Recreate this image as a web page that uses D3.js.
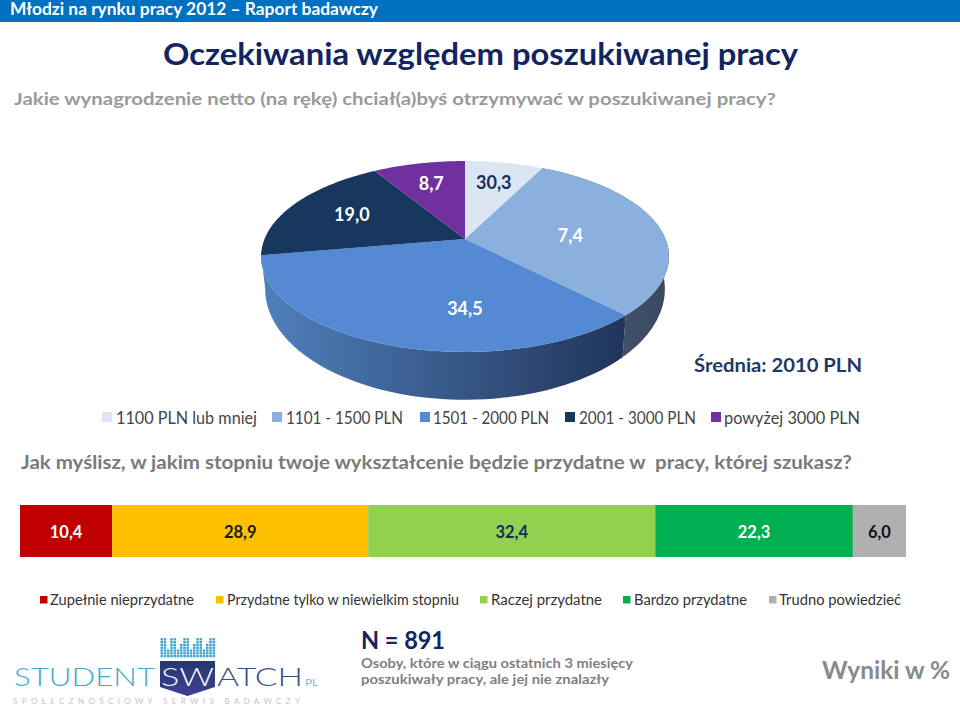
<!DOCTYPE html>
<html lang="pl"><head><meta charset="utf-8">
<script src="https://cdn.jsdelivr.net/npm/d3@7"></script>
<style>html,body{margin:0;padding:0;background:#fff}svg{display:block}text{font-family:Lato,"Open Sans",sans-serif}</style>
</head><body><svg id="c" width="960" height="707"></svg>
<script>
// ---------- data ----------
const pieCategories = ["1100 PLN lub mniej","1101 - 1500 PLN","1501 - 2000 PLN","2001 - 3000 PLN","powyżej 3000 PLN"];
const pieValues = [7.4, 30.3, 34.5, 19.0, 8.7];
const pieLabels = ["30,3","7,4","34,5","19,0","8,7"];
const barCategories = ["Zupełnie nieprzydatne","Przydatne tylko w niewielkim stopniu","Raczej przydatne","Bardzo przydatne","Trudno powiedzieć"];
const barValues = [10.4, 28.9, 32.4, 22.3, 6.0];
const barLabels = ["10,4","28,9","32,4","22,3","6,0"];
const equalizerLevels = [7,7,3,7,7,3,5,7,7,3,5,7,7,3,5,7,7];

// ---------- styles ----------
const pieColors = ["#dce6f2","#8cb0de","#5489d3","#17375e","#7030a0"];
const pieLabelColors = ["#12305e","#fff","#fff","#fff","#fff"];
const sideStops = [["#dce6f2","#dce6f2"],["#3f5068","#394960"],["#4f7fbb","#203559"],["#17375e","#17375e"],["#7030a0","#7030a0"]];
const barColors = ["#c00000","#ffc000","#92d050","#00b050","#b0b0b0"];
const barLabelColors = ["#fff","#1b1b1b","#10305a","#fff","#111"];

const svg = d3.select("#c");
const defs = svg.append("defs");
function txt(s,x,y,size,fill,weight,len,anchor){
  const t = svg.append("text").attr("x",x).attr("y",y).attr("font-size",size).attr("fill",fill)
    .attr("font-weight",weight||400).attr("text-anchor",anchor||"start").text(s);
  if(len) t.attr("textLength",len).attr("lengthAdjust","spacingAndGlyphs");
  return t;
}

// ---------- header ----------
svg.append("rect").attr("width",960).attr("height",22).attr("fill","#0070c0");
txt("Młodzi na rynku pracy 2012 – Raport badawczy",10,15,16.5,"#fff",700,368);
txt("Oczekiwania względem poszukiwanej pracy",163,65,30,"#12255e",700,635);
txt("Jakie wynagrodzenie netto (na rękę) chciał(a)byś otrzymywać w poszukiwanej pracy?",14,105,17.5,"#9a9a9a",700,762);

// ---------- 3D pie: perspective projection of a tilted disc ----------
const cx=465, cy=239, A=200.5, B=48.5, C=-0.183;
function project(angle,r){
  const u=r*Math.sin(angle), v=-r*Math.cos(angle), d=1+C*v;
  return [cx+A*u/d,(cy+B*v)/d];
}
const lowerK=0.98, lowerKy=1.16, lowerD=32.7, midY=257;
function lower(p){ return [cx+(p[0]-cx)*lowerK, midY+(p[1]-midY)*lowerKy+lowerD]; }
const arcs = d3.pie().sort(null).value(d=>d)(pieValues);
const line = d3.line();
function arcPts(a0,a1){ return d3.range(0,61).map(i=>a0+(a1-a0)*i/60); }

const pieG = svg.append("g");
arcs.forEach((a,i)=>{
  const g = defs.append("linearGradient").attr("id","side"+i).attr("gradientUnits","userSpaceOnUse")
    .attr("x1",i===2?265:622).attr("x2",i===2?625:669).attr("y1",0).attr("y2",0);
  g.append("stop").attr("offset",0).attr("stop-color",sideStops[i][0]);
  g.append("stop").attr("offset",1).attr("stop-color",sideStops[i][1]);
});
[1,2].forEach(i=>{
  const a=arcs[i], th=arcPts(a.startAngle,a.endAngle);
  const top=th.map(t=>project(t,1));
  const bot=top.map(lower).reverse();
  pieG.append("path").attr("d",line(top.concat(bot))+"Z").attr("fill",`url(#side${i})`);
});
arcs.forEach((a,i)=>{
  const pts=[project(0,0)].concat(arcPts(a.startAngle,a.endAngle).map(t=>project(t,1)));
  pieG.append("path").attr("d",line(pts)+"Z").attr("fill",pieColors[i]);
});
const labelR=[0.7,0.53,0.667,0.65,0.7], labelShift=[0,5,-18,0,0];
arcs.forEach((a,i)=>{
  const p=project((a.startAngle+a.endAngle)/2+labelShift[i]*Math.PI/180,labelR[i]);
  txt(pieLabels[i],p[0],p[1]+6,18,pieLabelColors[i],700,null,"middle");
});
txt("Średnia: 2010 PLN",694,372,19.5,"#1f3864",700,168);

// ---------- pie legend ----------
const pieLegendX=[102,272,420,565,711], pieTextX=[116,286,433,579,724], pieTextW=[141,117,116,117,136];
pieCategories.forEach((c,i)=>{
  svg.append("rect").attr("x",pieLegendX[i]).attr("y",412).attr("width",10).attr("height",10).attr("fill",pieColors[i]);
  txt(c,pieTextX[i],423.5,16.5,"#444",400,pieTextW[i]);
});

// ---------- second question & stacked bar ----------
txt("Jak myślisz, w jakim stopniu twoje wykształcenie będzie przydatne w  pracy, której szukasz?",21,469,18.5,"#7a7a7a",700,831).style("white-space","pre");
const xBar=d3.scaleLinear().domain([0,d3.sum(barValues)]).range([20,906]);
let acc=0;
barValues.forEach((v,i)=>{
  const x0=xBar(acc), x1=xBar(acc+v); acc+=v;
  svg.append("rect").attr("x",x0).attr("y",505).attr("width",x1-x0).attr("height",52).attr("fill",barColors[i]);
  txt(barLabels[i],(x0+x1)/2,538,16.5,barLabelColors[i],700,null,"middle");
});
const barLegendX=[40,216,480,623,769], barTextX=[50,227,491,634,779], barTextW=[144,232,111,113,122];
barCategories.forEach((c,i)=>{
  svg.append("rect").attr("x",barLegendX[i]).attr("y",596).attr("width",7.5).attr("height",7.5).attr("fill",barColors[i]);
  txt(c,barTextX[i],605,14.5,"#333",400,barTextW[i]);
});

// ---------- footer ----------
txt("N = 891",361,649,25,"#12255e",700,84);
txt("Osoby, które w ciągu ostatnich 3 miesięcy",361,667.5,14,"#7f7f7f",700,272);
txt("poszukiwały pracy, ale jej nie znalazły",361,684,14,"#7f7f7f",700,248);
txt("Wyniki w %",822,679,24,"#8a8a8a",700,128);

// ---------- logo ----------
const grad=defs.append("linearGradient").attr("id","shield").attr("x1",0).attr("x2",0).attr("y1",0).attr("y2",1);
grad.append("stop").attr("offset",0).attr("stop-color","#24386f");
grad.append("stop").attr("offset",1).attr("stop-color","#3c3f92");
equalizerLevels.forEach((n,c)=>{
  d3.range(n).forEach(k=>{
    svg.append("rect").attr("x",160.5+c*3.25).attr("y",655-k*2.8).attr("width",2.5).attr("height",2.3).attr("fill","#3fa5cd");
  });
});
svg.append("path").attr("d","M160 661H215V687L187.5 696L160 687Z").attr("fill","url(#shield)");
txt("STUDENT",14,686,25,"#43a9cf",300,141);
txt("SW",161,686,25,"#f4f6ff",300,53);
txt("ATCH",217,686,25,"#31527f",300,86);
txt("PL",305,686,9,"#7cb6c8",400,13);
txt("SPOŁECZNOŚCIOWY SERWIS BADAWCZY",13,704,8,"#c4c4c4",400,287).attr("lengthAdjust","spacing");
</script></body></html>
